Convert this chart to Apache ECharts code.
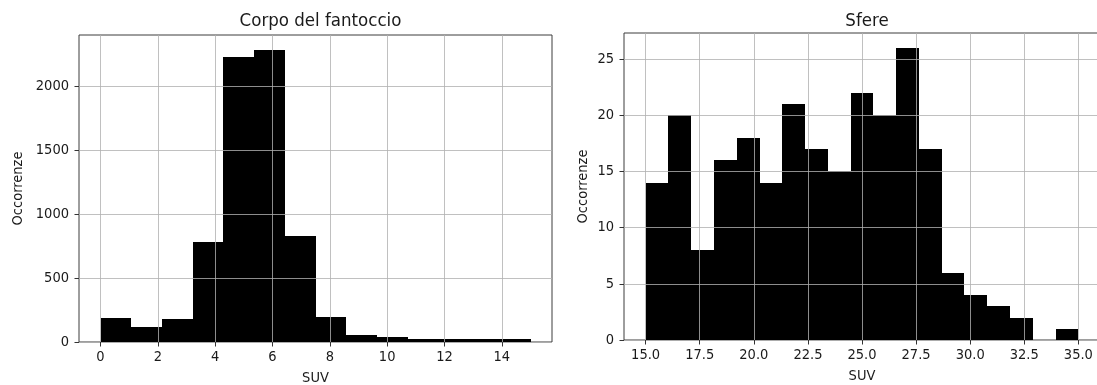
<!DOCTYPE html>
<html>
<head>
<meta charset="utf-8">
<script src="https://cdn.jsdelivr.net/npm/echarts@6/dist/echarts.min.js"></script>
<style>
  html, body { margin: 0; padding: 0; background: #fff; }
  #chart { width: 1097px; height: 385px; }
</style>
</head>
<body>
<div id="chart"></div>
<script>
// Histogram of SUV values in the phantom body (left) and in the spheres (right)
const bodyTitle = 'Corpo del fantoccio';
const sphereTitle = 'Sfere';
const xName = 'SUV';
const yName = 'Occorrenze';

// Phantom body: 14 bins between 0 and 15
const bodyEdges = [0, 1.071, 2.143, 3.214, 4.286, 5.357, 6.429, 7.5, 8.571, 9.643, 10.714, 11.786, 12.857, 13.929, 15];
const bodyCounts = [191, 115, 181, 780, 2235, 2290, 834, 192, 58, 37, 22, 22, 22, 22];
const bodyXTicks = [0, 2, 4, 6, 8, 10, 12, 14];
const bodyYTicks = [0, 500, 1000, 1500, 2000];

// Spheres: 19 bins between 15 and 35
const sphereEdges = [15, 16.053, 17.105, 18.158, 19.211, 20.263, 21.316, 22.368, 23.421, 24.474, 25.526,
                     26.579, 27.632, 28.684, 29.737, 30.789, 31.842, 32.895, 33.947, 35];
const sphereCounts = [14, 20, 8, 16, 18, 14, 21, 17, 15, 22, 20, 26, 17, 6, 4, 3, 2, 0, 1];
const sphereXTicks = [15, 17.5, 20, 22.5, 25, 27.5, 30, 32.5, 35];
const sphereYTicks = [0, 5, 10, 15, 20, 25];

const FONT = "'DejaVu Sans Condensed', 'DejaVu Sans', sans-serif";
const TXT = '#1a1a1a';
const GRIDLINE = 'rgba(176,176,176,0.8)';

function binData(edges, counts) {
  return counts.map((c, i) => [edges[i], edges[i + 1], c]);
}

// one filled rectangle per bin, from the bin's lower edge to its upper edge;
// edges are snapped to whole pixels so neighbouring bins join without seams
function renderBin(params, api) {
  const lo = api.coord([api.value(0), api.value(2)]);
  const hi = api.coord([api.value(1), 0]);
  const x0 = Math.round(lo[0]);
  const x1 = Math.round(hi[0]);
  const y0 = Math.round(lo[1]);
  const y1 = Math.round(hi[1]);
  return {
    type: 'rect',
    shape: { x: x0, y: y0, width: x1 - x0, height: y1 - y0 },
    style: { fill: '#000' }
  };
}

function xAxisFor(gridIndex, min, max, ticks, fmt) {
  return {
    type: 'value', gridIndex, min, max, z: 5,
    name: xName, nameLocation: 'middle', nameGap: 29,
    nameTextStyle: { fontFamily: FONT, fontSize: 14.5, color: TXT },
    axisLine: { show: false, onZero: false },
    axisTick: { show: true, length: 4.5, customValues: ticks, lineStyle: { color: '#333', width: 1 } },
    axisLabel: { customValues: ticks, margin: 7.5, fontFamily: FONT, fontSize: 14.5, color: TXT, formatter: fmt },
    splitLine: { show: true, lineStyle: { color: GRIDLINE, width: 1 } }
  };
}

function yAxisFor(gridIndex, max, ticks, gap) {
  return {
    type: 'value', gridIndex, min: 0, max, z: 5,
    name: yName, nameLocation: 'middle', nameGap: gap, nameRotate: 90,
    nameTextStyle: { fontFamily: FONT, fontSize: 14.5, color: TXT },
    axisLine: { show: false, onZero: false },
    axisTick: { show: true, length: 4.5, customValues: ticks, lineStyle: { color: '#333', width: 1 } },
    axisLabel: { customValues: ticks, margin: 10, fontFamily: FONT, fontSize: 14.5, color: TXT, formatter: v => String(v) },
    splitLine: { show: true, lineStyle: { color: GRIDLINE, width: 1 } }
  };
}

const gridBase = {
  show: true, borderColor: '#3c3c3c', borderWidth: 1, backgroundColor: 'transparent',
  containLabel: false, outerBoundsMode: 'none'
};

const chart = echarts.init(document.getElementById('chart'), null, { renderer: 'canvas' });
chart.setOption({
  animation: false,
  backgroundColor: '#fff',
  title: [
    { text: bodyTitle, left: 315.5, top: 7, textAlign: 'center',
      textStyle: { fontFamily: FONT, fontSize: 18.5, fontWeight: 'normal', color: TXT } },
    { text: sphereTitle, left: 862, top: 7, textAlign: 'center',
      textStyle: { fontFamily: FONT, fontSize: 18.5, fontWeight: 'normal', color: TXT } }
  ],
  grid: [
    Object.assign({ left: 79, right: 545, top: 35, bottom: 43 }, gridBase),
    Object.assign({ left: 624, right: -3, top: 33, bottom: 45 }, gridBase)
  ],
  xAxis: [
    xAxisFor(0, -0.75, 15.75, bodyXTicks, v => String(v)),
    xAxisFor(1, 14, 36, sphereXTicks, v => v.toFixed(1))
  ],
  yAxis: [
    yAxisFor(0, 2404.5, bodyYTicks, 53),
    yAxisFor(1, 27.3, sphereYTicks, 33)
  ],
  series: [
    { type: 'custom', xAxisIndex: 0, yAxisIndex: 0, z: 2, renderItem: renderBin,
      encode: { x: [0, 1], y: 2 }, data: binData(bodyEdges, bodyCounts) },
    { type: 'custom', xAxisIndex: 1, yAxisIndex: 1, z: 2, renderItem: renderBin,
      encode: { x: [0, 1], y: 2 }, data: binData(sphereEdges, sphereCounts) }
  ]
});
</script>
</body>
</html>
